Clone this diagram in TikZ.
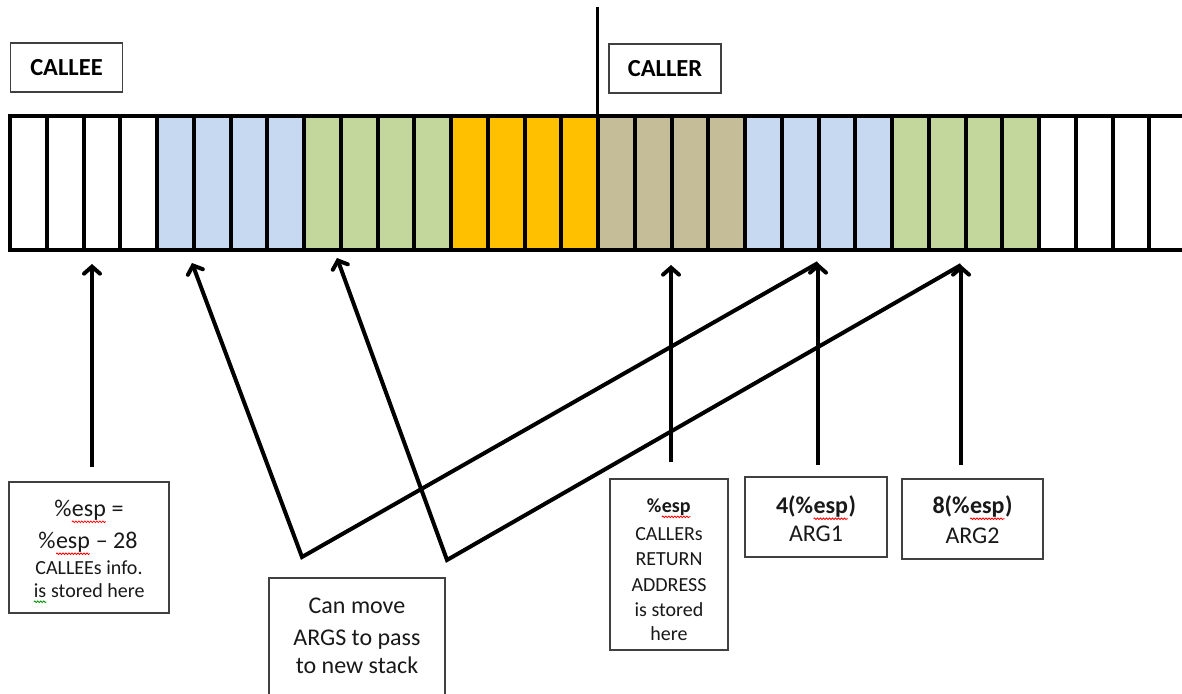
\documentclass[tikz,border=0pt]{standalone}
\usepackage{fontspec}
\setmainfont{Carlito}
\usetikzlibrary{arrows.meta,decorations.pathmorphing}
\definecolor{cblue}{HTML}{C6D9F1}
\definecolor{cgreen}{HTML}{C3D69B}
\definecolor{corange}{HTML}{FFC000}
\definecolor{ctan}{HTML}{C4BD97}
\definecolor{boxline}{HTML}{404040}
\newcommand\wavy[2][red]{\tikz[baseline=(wv.base)]{\node[inner sep=0pt,outer sep=0pt,anchor=base] (wv) at (0,0) {#2};\draw[#1,line width=0.8pt,decorate,decoration={snake,amplitude=0.8pt,segment length=3pt}] ([yshift=-0.24em]wv.base west) -- ([yshift=-0.24em]wv.base east);}}
\tikzset{
  cellbox/.style={draw=gray!50,line width=0.6pt},
  strip/.style={line width=4pt,black},
  labelbox/.style={draw=boxline,line width=1.5pt,fill=white,inner sep=0pt},
  txt/.style={inner sep=0pt,anchor=base,text=black!90},
  big/.style={font=\fontsize{24}{29}\selectfont},
  mid/.style={font=\fontsize{20}{24}\selectfont},
  arr/.style={line width=4pt,black},
  tip/.style={-{Straight Barb[length=7pt,width=16pt,line cap=round]}}
}
\begin{document}
\begin{tikzpicture}[x=1pt,y=-1pt]
\useasboundingbox (0,0) rectangle (1182,693);
\fill[white] (0,0) rectangle (1182,693);
% cells
\foreach \g/\c in {0/white,1/cblue,2/cgreen,3/corange,4/ctan,5/cblue,6/cgreen,7/white}{
  \foreach \k in {0,...,3}{
    \fill[\c,cellbox] ({10+36.75*(4*\g+\k)},116) rectangle ++(36.75,134);
  }
}
\foreach \i in {0,...,32}{
  \draw[strip] ({10+36.75*\i},116) -- ({10+36.75*\i},250);
}
\draw[strip] (8,116) -- (1200,116);
\draw[strip,line width=4.5pt] (8,250) -- (1200,250);
% divider
\draw[line width=3pt] (597.5,7) -- (597.5,116);
% top labels
\node[labelbox,minimum width=112pt,minimum height=48.5pt,font=\fontsize{24.5}{29}\selectfont\bfseries] (callee) at (66.5,67.5) {CALLEE};
\node[labelbox,minimum width=112pt,minimum height=49pt,font=\fontsize{24.5}{29}\selectfont\bfseries] (caller) at (665,68.5) {CALLER};
% bottom boxes
\node[labelbox,minimum width=160pt,minimum height=131pt] (bx1) at (89,547.5) {};
\node[labelbox,minimum width=176pt,minimum height=140pt] (bx2) at (357,648) {};
\node[labelbox,minimum width=118pt,minimum height=171pt] (bx3) at (669,564.5) {};
\node[labelbox,minimum width=142pt,minimum height=80pt] (bx4) at (816,517) {};
\node[labelbox,minimum width=141pt,minimum height=80pt] (bx5) at (972.5,519) {};
% texts box 1
\node[txt,big] (t11) at (89,516) {\%\wavy{esp} =};
\node[txt,big] (t12) at (88,548) {\%\wavy{esp} -- 28};
\node[txt,mid] (t13) at (89,574) {CALLEEs info.};
\node[txt,mid] (t14) at (89,597) {\wavy[green!60!black]{is} stored here};
% texts box 2
\node[txt,big] (t21) at (357,613) {Can move};
\node[txt,big] (t22) at (357,645) {ARGS to pass};
\node[txt,big] (t23) at (357,673) {to new stack};
% texts box 3
\node[txt,mid,font=\fontsize{20}{24}\selectfont\bfseries] (t31) at (669,512) {\%\wavy{esp}};
\node[txt,mid] (t32) at (669,540) {CALLERs};
\node[txt,mid] (t33) at (669,565) {RETURN};
\node[txt,mid] (t34) at (669,591) {ADDRESS};
\node[txt,mid] (t35) at (669,616) {is stored};
\node[txt,mid] (t36) at (669,640) {here};
% texts box 4, 5
\node[txt,font=\fontsize{24}{29}\selectfont\bfseries] (t41) at (816,513) {4(\%\wavy{esp})};
\node[txt,big] (t42) at (816,541) {ARG1};
\node[txt,font=\fontsize{24}{29}\selectfont\bfseries] (t51) at (972.5,513) {8(\%\wavy{esp})};
\node[txt,big] (t52) at (972.5,543) {ARG2};
% arrow coordinates
\coordinate (s1) at (92,467);
\coordinate (e1) at (92,264);
\coordinate (a1) at (192,263);
\coordinate (a2) at (337,258);
\coordinate (v1) at (302,557);
\coordinate (v2) at (447,560);
\coordinate (s3) at (671,462);
\coordinate (e3) at (671,265);
\coordinate (s4) at (818,465);
\coordinate (e4) at (818,263);
\coordinate (s5) at (961,465);
\coordinate (e5) at (961,265);
% arrows
\draw[arr,tip] (s1) -- (e1);
\draw[arr,tip] (s3) -- (e3);
\draw[arr,tip] (s4) -- (e4);
\draw[arr,tip] (s5) -- (e5);
\draw[arr,{Straight Barb[length=7pt,width=16pt,line cap=round]}-] (a1) -- (v1) -- (e4);
\draw[arr,{Straight Barb[length=7pt,width=16pt,line cap=round]}-] (a2) -- (v2) -- (e5);
\end{tikzpicture}
\end{document}
